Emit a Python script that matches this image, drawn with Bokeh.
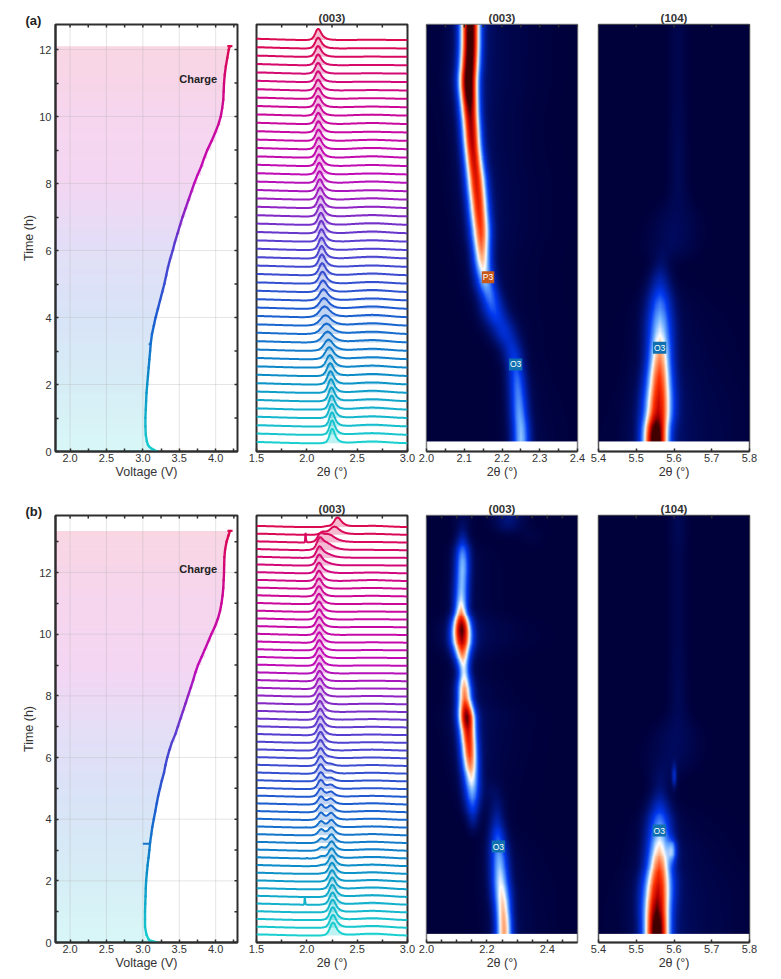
import numpy as np
from bokeh.embed import file_html
from bokeh.resources import INLINE
from bokeh.layouts import column, row
from bokeh.models import (FixedTicker, Label, LinearAxis, LinearColorMapper, NumeralTickFormatter,
                          Range1d, Title)
from bokeh.plotting import figure

# ---------- panel (a) voltage curve ----------
a_time = [0, .05, .1, .15, .2, .3, .5, .75, 1, 1.25, 1.5, 1.75, 2, 2.25, 2.5, 2.75, 3, 3.25, 3.5, 3.75, 4, 4.25,
          4.5, 4.75, 5, 5.25, 5.5, 5.75, 6, 6.25, 6.5, 6.75, 7, 7.25, 7.5, 7.75, 8, 8.25, 8.5, 8.75, 9, 9.25,
          9.5, 9.75, 10, 10.25, 10.5, 10.75, 11, 11.25, 11.5, 11.75, 12, 12.1]
a_volt = [3.2, 3.15, 3.11, 3.085, 3.07, 3.055, 3.04, 3.035, 3.035, 3.04, 3.045, 3.05, 3.06, 3.07, 3.08, 3.09, 3.10,
          3.11, 3.125, 3.15, 3.175, 3.205, 3.235, 3.265, 3.295, 3.32, 3.345, 3.375, 3.41, 3.44, 3.475, 3.51, 3.545,
          3.585, 3.625, 3.665, 3.705, 3.75, 3.8, 3.84, 3.885, 3.94, 3.99, 4.035, 4.07, 4.09, 4.105, 4.11, 4.115,
          4.125, 4.14, 4.16, 4.18, 4.195]
b_time = [0, .05, .1, .25, .5, .75, 1, 1.25, 1.5, 1.75, 2, 2.25, 2.5, 2.75, 3, 3.25, 3.5, 3.75, 4, 4.25, 4.5, 4.75,
          5, 5.25, 5.5, 5.75, 6, 6.25, 6.5, 6.75, 7, 7.25, 7.5, 7.75, 8, 8.25, 8.5, 8.75, 9, 9.25, 9.5, 9.75, 10,
          10.25, 10.5, 10.75, 11, 11.25, 11.5, 11.75, 12, 12.25, 12.5, 12.75, 13, 13.2, 13.35]
b_volt = [3.2, 3.115, 3.08, 3.05, 3.03, 3.03, 3.03, 3.033, 3.037, 3.04, 3.045, 3.055, 3.065, 3.078, 3.09, 3.10, 3.115,
          3.13, 3.15, 3.17, 3.19, 3.21, 3.235, 3.26, 3.29, 3.31, 3.335, 3.365, 3.40, 3.445, 3.48, 3.515, 3.55,
          3.585, 3.62, 3.655, 3.69, 3.72, 3.757, 3.805, 3.85, 3.895, 3.94, 3.99, 4.03, 4.06, 4.08, 4.095, 4.105,
          4.11, 4.115, 4.117, 4.12, 4.13, 4.15, 4.175, 4.197]
tail_volt = [2.72, 3.2]
a_blip = [3.08, 3.11, 3.2]   # left, right, time
b_blip = [3.0, 3.11, 3.2]
cap_half = .035

# ---------- waterfall (a) ----------
a_center = [2.252, 2.251, 2.25, 2.248, 2.247, 2.245, 2.24, 2.235, 2.232, 2.228,
            2.222, 2.215, 2.205, 2.195, 2.185, 2.176, 2.17, 2.165, 2.16, 2.155,
            2.152, 2.149, 2.147, 2.146, 2.145, 2.143, 2.14, 2.137, 2.134, 2.131,
            2.128, 2.126, 2.124, 2.122, 2.12, 2.118, 2.116, 2.115, 2.114, 2.113,
            2.112, 2.112, 2.112, 2.112, 2.112, 2.112, 2.112, 2.112, 2.112]
a_height = [1.75, 1.75, 1.7, 1.7, 1.7, 1.65, 1.65, 1.6, 1.55, 1.5,
            1.45, 1.35, 1.3, 1.25, 1.25, 1.3, 1.3, 1.35, 1.4, 1.45,
            1.45, 1.5, 1.5, 1.5, 1.5, 1.5, 1.45, 1.45, 1.45, 1.45,
            1.45, 1.4, 1.4, 1.4, 1.4, 1.4, 1.35, 1.35, 1.35, 1.35,
            1.35, 1.3, 1.3, 1.3, 1.3, 1.3, 1.3, 1.3, 1.35]
a_width = [.9, .9, .9, .95, .95, 1, 1, 1.05, 1.1, 1.2,
           1.35, 1.5, 1.7, 1.8, 1.8, 1.7, 1.5, 1.35, 1.25, 1.15,
           1.1, 1.05, 1, 1, 1, 1, 1, 1, 1, 1,
           1, 1, 1, 1, 1, 1, 1, 1, 1, 1,
           1, 1, 1, 1, 1, 1, 1, 1, 1]
a_hump = [.2, .2, .2, .2, .24, .24, .24, .24, .24, .24,
          .24, .24, .28, .28, .28, .28, .28, .24, .24, .2,
          .2, .16, .2, .16, .16, .2, .2, .16, .16, .16,
          .12, .16, .12, .12, .16, .16, .12, .08, .12, .12,
          .08, .08, .04, .04, .04, .04, .03, .03, .03]

# ---------- waterfall (b) ----------
b_o3_center = [2.26, 2.26, 2.258, 2.256, 2.255, 2.254, 2.252, 2.25, 2.25, 2.248,
               2.247, 2.246, 2.245, 2.245, 2.245, 2.243, 2.24, 2.24, 2.24, 2.24,
               2.24, 2.24, 2.24, 2.24, 2.24, 2.24, 2.24, 2.24, 2.24, 2.24,
               2.24, 2.24, 2.24, 2.24, 2.24, 2.24, 2.24, 2.24, 2.24, 2.24,
               2.24, 2.24, 2.24, 2.24, 2.24, 2.24, 2.24, 2.24, 2.24, 2.24,
               2.24, 2.24, 2.24, 2.24]
b_o3_height = [1.7, 1.7, 1.7, 1.65, 1.6, 1.6, 1.55, 1.5, 1.45, 1.4,
               1.3, 1.2, 1.1, 1.0, .95, .85, .8, .7, .6, .5,
               .4, .3, .2, .1, 0, 0, 0, 0, 0, 0,
               0, 0, 0, 0, 0, 0, 0, 0, 0, 0,
               0, 0, 0, 0, 0, 0, 0, 0, 0, 0,
               0, 0, 0, 0]
b_p3_center = [2.15, 2.15, 2.15, 2.15, 2.15, 2.15, 2.15, 2.15, 2.15, 2.15,
               2.148, 2.146, 2.144, 2.142, 2.141, 2.14, 2.14, 2.14, 2.139, 2.138,
               2.138, 2.137, 2.136, 2.136, 2.135, 2.135, 2.134, 2.133, 2.132, 2.13,
               2.129, 2.128, 2.127, 2.126, 2.125, 2.125, 2.124, 2.124, 2.123, 2.123,
               2.122, 2.122, 2.121, 2.121, 2.12, 2.12, 2.12, 2.12, 2.122, 2.124,
               2.128, 2.135, 2.16, 2.2]
b_p3_height = [0, 0, 0, 0, 0, 0, 0, 0, .05, .15,
               .3, .45, .6, .8, .85, .95, 1, 1.05, 1.1, 1.2,
               1.2, 1.25, 1.3, 1.35, 1.4, 1.45, 1.45, 1.45, 1.45, 1.45,
               1.4, 1.4, 1.4, 1.35, 1.35, 1.35, 1.35, 1.35, 1.35, 1.35,
               1.35, 1.35, 1.35, 1.35, 1.35, 1.35, 1.35, 1.35, 1.35, 1.35,
               1.35, .95, .35, .1]
b_hump = [.24, .24, .24, .2, .24, .24, .24, .2, .2, .2,
          .2, .2, .16, .16, .16, .16, .16, .16, .12, .12,
          .12, .12, .12, .1, .12, .08, .08, .08, .08, .08,
          .08, .08, .06, .06, .04, .04, .04, .04, .04, .04,
          .04, .04, .04, .04, .08, .1, .12, .1, .04, .03,
          .04, .06, .12, .16]
shoulder_scan = [47, 48, 49, 50, 51, 52, 53]
shoulder_center = [2.2, 2.2, 2.2, 2.2, 2.22, 2.275, 2.305]
shoulder_height = [.12, .25, .4, .75, .95, 1.05, 1.25]
shoulder_width = [2, 2, 2, 2, 2, 1.6, 1.2]
spike_scan = [4, 10, 14, 51]
spike_pos = [1.98, 2.0, 1.99, 1.987]
spike_height = [.95, .08, .08, 1.3]

# read-off line shapes shared by the scans
peak_u = [-3, -2.2, -1.6, -1.1, -.7, -.35, 0, .35, .7, 1.1, 1.6, 2.2, 3, 4, 5.5]
peak_v = [0, .03, .1, .3, .6, .88, 1, .9, .66, .42, .24, .12, .05, .02, 0]
hump_x = [2.3, 2.4, 2.5, 2.6, 2.65, 2.7, 2.8, 2.9, 3.0]
hump_v = [0, .25, .65, .95, 1, .95, .6, .2, 0]
slope_x = [1.5, 1.6, 1.75, 1.95, 3.0]
slope_v = [.15, .12, .06, 0, 0]

# ---------- heatmap ridges, one row per read level: centre (deg), peak (colour scale 0-1), width (deg) ----------
a003_center = [2.250, 2.246, 2.243, 2.24, 2.235, 2.225, 2.205, 2.182, 2.168, 2.155, 2.148, 2.145, 2.143,
               2.139, 2.135, 2.131, 2.126, 2.121, 2.118, 2.115, 2.112, 2.110, 2.113, 2.115, 2.115]
a003_peak = [.43, .40, .36, .33, .27, .22, .24, .28, .35, .44, .56, .68, .76,
             .8, .83, .85, .87, .9, .93, .96, 1.1, 1.15, 1.12, 1.1, 1.1]
a003_width = [.0159, .0159, .0159, .0159, .0159, .0185, .0212, .0212, .0185, .0172, .0159, .0159, .0172,
              .0172, .0172, .0172, .0164, .0159, .0159, .0159, .0159, .0165, .0165, .0165, .0165]
a104_center = [5.551, 5.557, 5.559, 5.56, 5.561, 5.562, 5.562, 5.562, 5.562, 5.562, 5.565, 5.59, 5.6,
               5.605, 5.61, 5.61, 5.61, 5.61, 5.61, 5.61, 5.61, 5.61, 5.61, 5.61, 5.61]
a104_peak = [1.15, .9, .84, .78, .7, .6, .48, .4, .3, .17, .07, .05, .05,
             .045, .04, .04, .04, .04, .035, .035, .03, .03, .03, .03, .03]
a104_width = [.0212, .0238, .0238, .0225, .0212, .0212, .0225, .0225, .0212, .0185, .0159, .04, .04,
              .035, .02, .016, .016, .016, .016, .016, .016, .016, .016, .016, .016]
b003_center = [2.256, 2.253, 2.249, 2.244, 2.241, 2.238, 2.235, 2.232, 2.151, 2.15, 2.147, 2.143, 2.14,
               2.136, 2.132, 2.126, 2.124, 2.123, 2.118, 2.116, 2.115, 2.113, 2.114, 2.116, 2.118, 2.118, 2.118, 2.118]
b003_peak = [.63, .6, .55, .49, .43, .37, .28, .15, .28, .42, .55, .72, .8,
             .86, 1.05, .7, .62, .44, .62, .92, 1.05, .58, .44, .42, .43, .36, .12, .04]
b003_width = [.0182, .0182, .0199, .0199, .0199, .0199, .0182, .0166, .0166, .0182, .0182, .0182, .0182,
              .0182, .0182, .0166, .0166, .0132, .0166, .0215, .0199, .0149, .0166, .0166, .0166, .0166, .0132, .02]
b003_second_row = [7, 8, 9, 26, 27]
b003_second_center = [2.153, 2.232, 2.22, 2.35, 2.27]
b003_second_peak = [.12, .08, .04, .02, .1]
b003_second_width = [.0132, .0166, .02, .03, .03]
b104_center = [5.554, 5.554, 5.556, 5.558, 5.56, 5.56, 5.561, 5.561, 5.561, 5.562, 5.565, 5.59, 5.6,
               5.605, 5.61, 5.61, 5.61, 5.61, 5.61, 5.61, 5.61, 5.61, 5.61, 5.61, 5.61, 5.61, 5.61, 5.61]
b104_peak = [1.12, 1.0, .9, .82, .72, .56, .45, .35, .2, .08, .06, .05, .05,
             .05, .045, .04, .04, .035, .035, .03, .03, .03, .03, .03, .03, .03, .04, .04]
b104_width = [.0212, .0225, .0238, .0238, .0212, .0212, .0212, .0212, .0185, .0159, .02, .04, .04,
              .035, .02, .016, .016, .016, .016, .016, .016, .016, .016, .016, .016, .016, .016, .016]
b104_second_row = [5, 10]
b104_second_center = [5.595, 5.6]
b104_second_peak = [.33, .25]
b104_second_width = [.008, .004]

# cross-section of a ridge in units of its width
ridge_u = [-14, -8, -5, -4, -3, -2.5, -2, -1.5, -1, -.5, 0, .5, 1, 1.5, 2, 2.5, 3, 4, 6, 10, 18]
ridge_v = [0, .005, .01, .02, .04, .09, .2, .38, .63, .88, 1, .88, .63, .38, .2, .1, .06, .04, .025, .012, 0]

# heatmap colours
heat_pos = [0, .25, .4, .5, .6, .75, .88, 1]
heat_r = [0, 0, 112, 255, 255, 255, 190, 64]
heat_g = [0, 56, 176, 255, 176, 48, 0, 0]
heat_b = [58, 240, 255, 255, 128, 0, 0, 0]

# ---------- styles ----------
FONT = "Liberation Sans"
DARK = "#2e2e2e"
TXT = "#333333"
stops = [0, .165, .33, .5, .66, .83, 1]
stop_r = [26, 12, 29, 90, 192, 204, 220]
stop_g = [207, 142, 91, 62, 12, 8, 10]
stop_b = [207, 200, 208, 208, 184, 152, 80]
heat_palette = []
for f in np.linspace(0, 1, 256):
    heat_palette.append("#%02x%02x%02x" % (int(np.interp(f, heat_pos, heat_r)), int(np.interp(f, heat_pos, heat_g)),
                                           int(np.interp(f, heat_pos, heat_b))))


def grad(f):
    return "#%02x%02x%02x" % (int(np.interp(f, stops, stop_r)), int(np.interp(f, stops, stop_g)),
                              int(np.interp(f, stops, stop_b)))


FRAME_H = 427
FRAME_W = 151
TICK_PX = 3


def make_fig(border, height, top, bottom, x_range, y_range, frame_w=FRAME_W, outline=DARK, outline_w=2):
    left, right = border
    p = figure(width=left + frame_w + right, height=height, x_range=x_range, y_range=y_range,
               output_backend="svg", toolbar_location=None,
               min_border_left=left, min_border_right=right, min_border_top=top, min_border_bottom=bottom,
               x_axis_type=None, y_axis_type=None)
    p.background_fill_color = "white"
    p.border_fill_color = None
    p.outline_line_color = outline
    p.outline_line_width = outline_w
    p.grid.visible = False
    return p


def style_ticks(ax):
    ax.major_tick_in = TICK_PX
    ax.major_tick_out = 0
    ax.minor_tick_in = TICK_PX
    ax.minor_tick_out = 0
    ax.major_tick_line_width = 1.5
    ax.minor_tick_line_width = 1.5
    ax.major_tick_line_color = DARK
    ax.minor_tick_line_color = DARK
    ax.axis_line_color = DARK
    ax.axis_line_width = 2
    ax.major_label_text_font = FONT
    ax.major_label_text_font_size = "11px"
    ax.major_label_text_color = TXT
    ax.axis_label_text_font = FONT
    ax.axis_label_text_font_size = "12.5px"
    ax.axis_label_text_font_style = "normal"
    ax.axis_label_text_color = TXT
    ax.axis_label_standoff = 0


def x_axis(p, major, minor, label):
    ax = LinearAxis(ticker=FixedTicker(ticks=major, minor_ticks=minor), axis_label=label,
                    formatter=NumeralTickFormatter(format="0.0"))
    style_ticks(ax)
    ax.major_label_standoff = 2
    p.add_layout(ax, "below")
    # mirrored ticks along the top edge
    ticks = list(major) + list(minor)
    yr = p.y_range
    px = (yr.end - yr.start) / FRAME_H
    p.segment(ticks, yr.end, ticks, yr.end - TICK_PX * px, line_color=DARK, line_width=1.5)


def title(p, text):
    p.add_layout(Title(text=text, align="center", text_font=FONT, text_font_size="11.5px",
                       text_font_style="bold", text_color=TXT, standoff=1), "above")


def voltage_panel(times, volts, blip, top_t, height, top, bottom, letter, charge_t):
    t = np.array(times, float)
    v = np.array(volts, float)
    p = make_fig((55, 10), height, top, bottom, Range1d(1.8, 4.3), Range1d(0, top_t), frame_w=182)
    f_end = t[-1]
    cols = [grad(x / f_end) for x in t[:-1]]
    p.quad(left=[1.8] * (len(t) - 1), right=v[1:], bottom=t[:-1], top=t[1:], fill_color=cols, fill_alpha=.17,
           line_color=None)
    for xv in (2, 2.5, 3, 3.5, 4):
        p.line([xv, xv], [0, top_t], line_color="#b4b4b4", line_alpha=.35, line_width=1)
    for tv in range(2, 14, 2):
        if tv < top_t:
            p.line([1.8, 4.3], [tv, tv], line_color="#b4b4b4", line_alpha=.35, line_width=1)
    p.line(tail_volt, [0, 0], line_color="#0a9a9a", line_width=1.6)
    xs = [[v[i], v[i + 1]] for i in range(len(t) - 1)]
    ys = [[t[i], t[i + 1]] for i in range(len(t) - 1)]
    p.multi_line(xs, ys, line_color=cols, line_width=2.4, line_cap="round")
    p.line(blip[:2], [blip[2], blip[2]], line_color=grad(blip[2] / f_end), line_width=2)
    p.line([v[-1] - cap_half, v[-1] + cap_half], [t[-1], t[-1]], line_color=grad(1), line_width=2.4)
    x_axis(p, [2, 2.5, 3, 3.5, 4], [2.25, 2.75, 3.25, 3.75, 4.25], "Voltage (V)")
    major = list(range(0, 14, 2))
    minor = list(range(1, 14, 2))
    ya = LinearAxis(ticker=FixedTicker(ticks=major, minor_ticks=minor), axis_label="Time (h)")
    style_ticks(ya)
    ya.major_label_standoff = 4
    ya.major_label_orientation = "horizontal"
    p.add_layout(ya, "left")
    px_v = 2.5 / 182
    rt = [m for m in major + minor if m < top_t]
    p.segment(4.3, rt, 4.3 - TICK_PX * px_v, rt, line_color=DARK, line_width=1.5)
    p.add_layout(Title(text=letter, align="left", offset=-30, text_font=FONT, text_font_size="13px",
                       text_font_style="bold", text_color="#222222", standoff=-6), "above")
    p.add_layout(Label(x=3.5, y=charge_t, text="Charge", text_font=FONT, text_font_size="11px",
                       text_font_style="bold", text_color="#222222", text_align="left", text_baseline="middle"))
    return p


def waterfall_panel(border, height, top, bottom, y_low, y_high, curves, hump):
    grid = np.linspace(1.5, 3.0, 601)
    n = len(hump)
    p = make_fig(border, height, top, bottom, Range1d(1.5, 3.0), Range1d(y_low, y_high))
    for i in range(n):
        y = np.interp(grid, slope_x, slope_v) + hump[i] * np.interp(grid, hump_x, hump_v)
        for center, amp, w in curves(i):
            if amp > 0:
                y = y + amp * np.interp((grid - center) / w, peak_u, peak_v)
        col = grad(i / (n - 1))
        p.varea(grid, np.full_like(grid, i), i + y, fill_color=col, fill_alpha=.28)
        p.line(grid, i + y, line_color=col, line_width=2)
    x_axis(p, [1.5, 2, 2.5, 3], [1.75, 2.25, 2.75], "2\u03b8 (\u00b0)")
    title(p, "(003)")
    return p


def ridge_image(x0, x1, rows, centers, peaks, widths, extra=()):
    grid = np.linspace(x0, x1, 302)
    img = np.zeros((rows, len(grid)))
    for r in range(rows):
        img[r] = peaks[r] * np.interp((grid - centers[r]) / widths[r], ridge_u, ridge_v)
    for r, c, pk, w in extra:
        img[r] += pk * np.interp((grid - c) / w, ridge_u, ridge_v)
    return img


def display_smooth(img, k=16):
    """Display-level smoothing of the read rows: the page shows image cells unsmoothed, so each read row
    is drawn as k screen rows and the block edges are softened along the time direction."""
    up = np.repeat(img, k, axis=0)
    kernel = np.ones(k) / k
    for _ in range(2):
        pad = np.pad(up, ((k, k), (0, 0)), mode="edge")
        up = np.apply_along_axis(lambda c: np.convolve(c, kernel, mode="same"), 0, pad)[k:-k]
    return up


def heat_panel(border, height, top, bottom, xr, t_low, t_high, img_low, img, major, minor, name, boxes, outline):
    p = make_fig(border, height, top, bottom, Range1d(*xr), Range1d(t_low, t_high), outline=outline, outline_w=1.5)
    mapper = LinearColorMapper(palette=heat_palette, low=0, high=1)
    p.image(image=[display_smooth(img)], x=xr[0], y=img_low, dw=xr[1] - xr[0], dh=t_high - img_low,
            color_mapper=mapper)
    x_axis(p, major, minor, "2\u03b8 (\u00b0)")
    title(p, name)
    for text, x, y, col in boxes:
        p.add_layout(Label(x=x, y=y, text=text, text_font=FONT, text_font_size="8.5px", text_color="white",
                           text_align="center", text_baseline="middle", background_fill_color=col,
                           padding=1))
    return p


A_TOP = (451 - 24) / 33.5
B_TOP = (942 - 515) / 30.83
H1, T1, B1 = 490, 24, 39
H2, T2, B2 = 485, 25, 33

a1 = voltage_panel(a_time, a_volt, a_blip, A_TOP, H1, T1, B1, "(a)", 11.13)
a2 = waterfall_panel((9, 9), H1, T1, B1, -.99, 49.85,
                     lambda i: [(a_center[i], a_height[i], .04 * a_width[i])], a_hump)
a3 = heat_panel((10, 11), H1, T1, B1, (2.0, 2.4), 0, A_TOP, .3,
                ridge_image(2.0, 2.4, 25, a003_center, a003_peak, a003_width),
                [2.0, 2.1, 2.2, 2.3, 2.4], [2.05, 2.15, 2.25, 2.35], "(003)",
                [("P3", 2.163, 5.2, "#c8581a"), ("O3", 2.236, 2.6, "#1070b0")], "#808080")
a4 = heat_panel((10, 14), H1, T1, B1, (5.4, 5.8), 0, A_TOP, .3,
                ridge_image(5.4, 5.8, 25, a104_center, a104_peak, a104_width),
                [5.4, 5.5, 5.6, 5.7, 5.8], [], "(104)",
                [("O3", 5.562, 3.1, "#1070b0")], "#555555")


def b_curves(i):
    out = [(b_o3_center[i], b_o3_height[i], .042), (b_p3_center[i], b_p3_height[i], .04)]
    if i in shoulder_scan:
        k = shoulder_scan.index(i)
        out.append((shoulder_center[k], shoulder_height[k], .04 * shoulder_width[k]))
    if i in spike_scan:
        k = spike_scan.index(i)
        out.append((spike_pos[k], spike_height[k], .004))
    return out


b1 = voltage_panel(b_time, b_volt, b_blip, B_TOP, H2, T2, B2, "(b)", 12.13)
b2 = waterfall_panel((9, 9), H2, T2, B2, -.91, 54.5, b_curves, b_hump)
b3 = heat_panel((10, 11), H2, T2, B2, (2.0, 2.5), 0, B_TOP, .28,
                ridge_image(2.0, 2.5, 28, b003_center, b003_peak, b003_width,
                            zip(b003_second_row, b003_second_center, b003_second_peak, b003_second_width)),
                [2.0, 2.2, 2.4], [2.05, 2.1, 2.15, 2.25, 2.3, 2.35, 2.45], "(003)",
                [("O3", 2.238, 3.11, "#1070b0")], "#808080")
b4 = heat_panel((10, 14), H2, T2, B2, (5.4, 5.8), 0, B_TOP, .28,
                ridge_image(5.4, 5.8, 28, b104_center, b104_peak, b104_width,
                            zip(b104_second_row, b104_second_center, b104_second_peak, b104_second_width)),
                [5.4, 5.5, 5.6, 5.7, 5.8], [], "(104)",
                [("O3", 5.561, 3.63, "#1070b0")], "#555555")

page = column(row(a1, a2, a3, a4, spacing=0), row(b1, b2, b3, b4, spacing=0), spacing=0)
open("out.html", "w").write(file_html(page, INLINE))
